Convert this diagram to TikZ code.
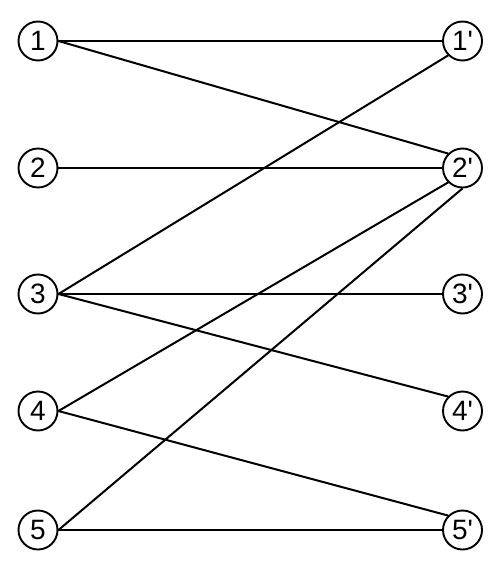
\documentclass[tikz,border=0pt]{standalone}
\usepackage{fontspec}
\newfontfamily\labfont{Liberation Sans}
\begin{document}
\begin{tikzpicture}[x=1pt,y=-1pt,
  vert/.style={circle,draw,line width=1.9pt,minimum size=39pt,inner sep=0pt,font=\labfont\fontsize{28}{28}\selectfont},
  edge/.style={line width=2pt}]
\useasboundingbox (0,0) rectangle (500,580);
\node[vert] (l1) at (38,41) {1};
\node[vert] (l2) at (38,168) {2};
\node[vert] (l3) at (38,294) {3};
\node[vert] (l4) at (38,411) {4};
\node[vert] (l5) at (38,530) {5};
\node[vert] (r1) at (462.5,41) {1'};
\node[vert] (r2) at (462.5,168) {2'};
\node[vert] (r3) at (462.5,294) {3'};
\node[vert] (r4) at (462.5,411) {4'};
\node[vert] (r5) at (462.5,530) {5'};
\draw[edge] (l1.east) -- (r1.west);
\draw[edge] (l1.east) -- (r2.north west);
\draw[edge] (l2.east) -- (r2.west);
\draw[edge] (l3.east) -- (r1.south west);
\draw[edge] (l3.east) -- (r3.west);
\draw[edge] (l3.east) -- (r4.north west);
\draw[edge] (l4.east) -- (r2.south west);
\draw[edge] (l4.east) -- (r5.north west);
\draw[edge] (l5.east) -- (r2.south);
\draw[edge] (l5.east) -- (r5.west);
\end{tikzpicture}
\end{document}
